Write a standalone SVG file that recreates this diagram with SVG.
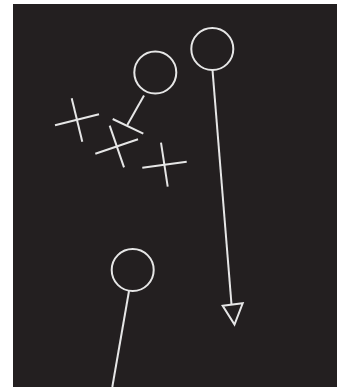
<svg xmlns="http://www.w3.org/2000/svg" width="337" height="387" viewBox="0 0 337 387">
<style>
.s{fill:none;stroke:#e6e6e6;stroke-width:2;}
</style>
<rect x="0" y="0" width="337" height="387" fill="#ffffff"/>
<rect x="13" y="4" width="324" height="383" fill="#231f20"/>
<g id="node-a"><circle class="s" cx="155.3" cy="72.5" r="21"/></g>
<g id="node-b"><circle class="s" cx="212.3" cy="49" r="21"/></g>
<g id="node-c"><circle class="s" cx="132.7" cy="270" r="21"/></g>
<g id="cross-1"><line class="s" x1="71.7" y1="98.3" x2="82.3" y2="141.7"/><line class="s" x1="55" y1="125.3" x2="99" y2="114.3"/></g>
<g id="cross-2"><line class="s" x1="109.7" y1="125.7" x2="124" y2="167.3"/><line class="s" x1="95.3" y1="153.7" x2="138" y2="139.3"/></g>
<g id="cross-3"><line class="s" x1="161" y1="142.7" x2="167.7" y2="186.7"/><line class="s" x1="142.3" y1="167.7" x2="186.7" y2="161.7"/></g>
<g id="connectors">
<line class="s" x1="144" y1="95.5" x2="127.3" y2="125"/>
<line class="s" x1="112.7" y1="119" x2="143.3" y2="133.7"/>
<line class="s" x1="212.5" y1="70" x2="231.5" y2="304.5"/>
<polygon class="s" points="222.7,305.7 242.7,303.3 234.5,324.5"/>
<line class="s" x1="129" y1="291" x2="112.3" y2="387"/>
</g>
</svg>
